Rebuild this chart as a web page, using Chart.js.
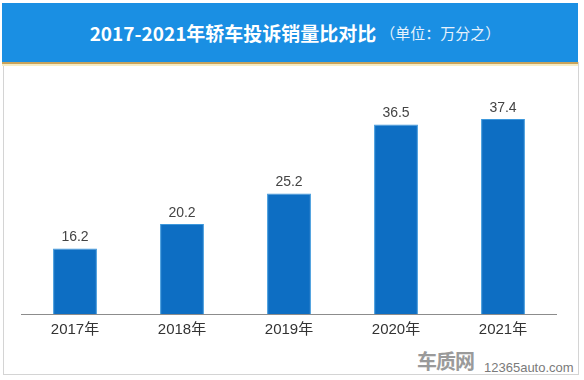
<!DOCTYPE html>
<html>
<head>
<meta charset="utf-8">
<script src="https://cdn.jsdelivr.net/npm/chart.js@4"></script>
<style>
  html,body{margin:0;padding:0;background:#fff;}
  #wrap{position:relative;width:584px;height:380px;overflow:hidden;background:#fff;font-family:"Noto Sans CJK SC","Liberation Sans",sans-serif;}
  #banner{position:absolute;left:2px;top:3px;width:576px;height:59px;background:#1a8fe3;display:flex;align-items:center;justify-content:center;}
  #bline1{position:absolute;left:2px;top:62px;width:576px;height:2px;background:#c8a35c;}
  #bline2{position:absolute;left:2px;top:64px;width:576px;height:2px;background:#f6ecc4;}
  #frame{position:absolute;left:3px;top:62px;width:574px;height:312px;border:1px solid #d4d4d4;border-top:none;}
  #t1{color:#fff;font-weight:bold;font-size:19px;margin-left:10px;}
  #t2{color:#e6f2fc;font-size:15px;margin-left:4px;}
  #logo1{position:absolute;left:417px;top:346px;font-size:20px;font-weight:bold;color:#9a9a9a;letter-spacing:-1px;}
  #logo2{position:absolute;left:484px;top:360px;font-size:13px;color:#7a7a7a;font-family:"Liberation Sans",sans-serif;}
  canvas{position:absolute;left:0;top:0;}
</style>
</head>
<body>
<div id="wrap">
  <div id="frame"></div>
  <div id="banner"><span id="t1">2017-2021年轿车投诉销量比对比</span><span id="t2">（单位：万分之）</span></div>
  <div id="bline1"></div>
  <div id="bline2"></div>
  <div id="logo1">车质网</div>
  <div id="logo2">12365auto.com</div>
  <canvas id="c" width="584" height="380"></canvas>
</div>
<script>
const categories = ["2017年","2018年","2019年","2020年","2021年"];
const values = [16.2, 20.2, 25.2, 36.5, 37.4];

const labelPlugin = {
  id: 'valueLabels',
  afterDatasetsDraw(chart) {
    const ctx = chart.ctx;
    const meta = chart.getDatasetMeta(0);
    ctx.save();
    ctx.font = '14px "Liberation Sans", Arial, sans-serif';
    ctx.fillStyle = '#444';
    ctx.textAlign = 'center';
    ctx.textBaseline = 'bottom';
    meta.data.forEach((bar, i) => {
      ctx.fillText(values[i].toFixed(1), bar.x, bar.y - 4);
    });
    ctx.restore();
  }
};

new Chart(document.getElementById('c'), {
  type: 'bar',
  data: {
    labels: categories,
    datasets: [{
      data: values,
      backgroundColor: '#0d6ec3',
      borderColor: '#3d98dc',
      borderWidth: 1,
      categoryPercentage: 1.0,
      barPercentage: 0.41
    }]
  },
  options: {
    responsive: false,
    animation: false,
    layout: { padding: { left: 21.5, right: 27.5, top: 103, bottom: 0 } },
    plugins: { legend: { display: false }, tooltip: { enabled: false }, title: { display: false } },
    scales: {
      x: {
        grid: { display: false, drawTicks: false },
        border: { display: true, color: '#8c8c8c', width: 1 },
        ticks: { color: '#333', padding: 7, font: { size: 15, family: '"Liberation Sans","Noto Sans CJK SC",sans-serif' } },
        afterFit(s) { s.height = 66; }
      },
      y: {
        display: false,
        min: 5.5,
        max: 40
      }
    }
  },
  plugins: [labelPlugin]
});
</script>
</body>
</html>
